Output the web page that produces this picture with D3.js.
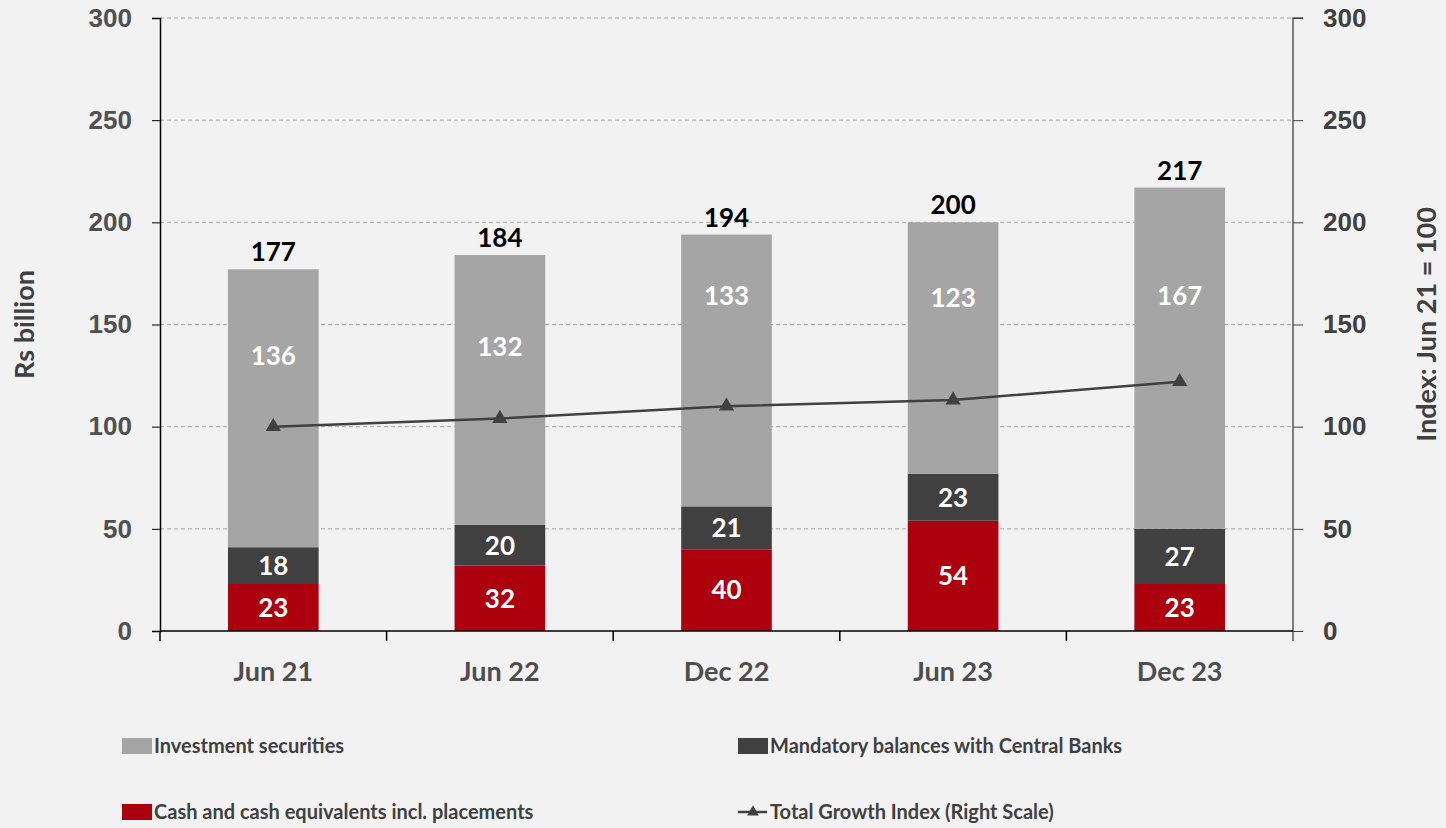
<!DOCTYPE html>
<html>
<head>
<meta charset="utf-8">
<script src="https://cdn.jsdelivr.net/npm/d3@7"></script>
<style>
  body { margin: 0; background: #f2f2f2; }
  svg { display: block; font-family: Lato, "Open Sans", sans-serif; font-weight: bold; }
</style>
</head>
<body>
<svg id="chart" width="1446" height="828"></svg>
<script>
// values
const periods = ["Jun 21", "Jun 22", "Dec 22", "Jun 23", "Dec 23"];
const cash = [23, 32, 40, 54, 23];
const mandatory = [18, 20, 21, 23, 27];
const investment = [136, 132, 133, 123, 167];
const totals = [177, 184, 194, 200, 217];
const growthIndex = [100, 104, 110, 113, 122];
const leftTicks = [0, 50, 100, 150, 200, 250, 300];
const rightTicks = [0, 50, 100, 150, 200, 250, 300];
// where the investment labels sit (Rs billion), moved off the index line in the original
const investLabelAt = [135, 139, 164, 163, 164];

const svg = d3.select("#chart");
const m = { left: 160, right: 1293, top: 18, bottom: 631 };

const x = d3.scaleBand().domain(periods).range([m.left, m.right]).paddingInner(0.6).paddingOuter(0.3);
const y = d3.scaleLinear().domain([0, 300]).range([m.bottom, m.top]);
const y2 = d3.scaleLinear().domain([0, 300]).range([m.bottom, m.top]);
const cx = p => x(p) + x.bandwidth() / 2;

// gridlines
svg.append("g").selectAll("line")
  .data(leftTicks.filter(t => t > 0))
  .enter().append("line")
  .attr("x1", m.left).attr("x2", m.right)
  .attr("y1", d => y(d)).attr("y2", d => y(d))
  .attr("stroke", "#a6a6a6").attr("stroke-width", 1)
  .attr("stroke-dasharray", "4,3");

// stacked bars
const rows = periods.map((p, i) => ({ period: p, cash: cash[i], mandatory: mandatory[i], investment: investment[i] }));
const keys = ["cash", "mandatory", "investment"];
const colors = { cash: "#ad000f", mandatory: "#404040", investment: "#a5a5a5" };
const stack = d3.stack().keys(keys)(rows);

const layers = svg.append("g").selectAll("g")
  .data(stack)
  .enter().append("g")
  .attr("fill", d => colors[d.key]);

layers.selectAll("rect")
  .data(d => d)
  .enter().append("rect")
  .attr("x", d => x(d.data.period))
  .attr("width", x.bandwidth())
  .attr("y", d => y(d[1]))
  .attr("height", d => y(d[0]) - y(d[1]));

// growth index line (drawn under the value labels)
const line = d3.line()
  .x((d, i) => cx(periods[i]))
  .y(d => y2(d));
svg.append("path").datum(growthIndex)
  .attr("d", line).attr("fill", "none")
  .attr("stroke", "#404040").attr("stroke-width", 2.5);
const tri = d3.symbol().type(d3.symbolTriangle).size(100);
svg.append("g").selectAll("path").data(growthIndex).enter().append("path")
  .attr("d", tri)
  .attr("transform", (d, i) => `translate(${cx(periods[i])},${y2(d)})`)
  .attr("fill", "#404040");

layers.selectAll("text")
  .data(d => d.map((v, i) => Object.assign({ key: d.key, i: i }, v)))
  .enter().append("text")
  .attr("x", d => cx(d.data.period))
  .attr("y", d => d.key === "investment" ? y(investLabelAt[d.i]) : (y(d[0]) + y(d[1])) / 2)
  .attr("dy", "0.36em")
  .attr("text-anchor", "middle")
  .attr("fill", "#fff")
  .attr("font-size", 26)
  .text(d => d.data[d.key]);

// totals
svg.append("g").selectAll("text")
  .data(totals)
  .enter().append("text")
  .attr("x", (d, i) => cx(periods[i]))
  .attr("y", d => y(d) - 8)
  .attr("text-anchor", "middle")
  .attr("fill", "#000")
  .attr("font-size", 26)
  .text(d => d);

// left axis
const leftAxis = svg.append("g")
  .attr("transform", `translate(${m.left},0)`)
  .call(d3.axisLeft(y).tickValues(leftTicks).tickSize(8).tickPadding(20));
leftAxis.select(".domain").attr("stroke", "#000").attr("stroke-width", 1.5);
leftAxis.selectAll(".tick line").attr("stroke", "#000");
leftAxis.selectAll("text").attr("font-size", 26).attr("fill", "#505050").attr("font-family", null);

// right axis
const rightAxis = svg.append("g")
  .attr("transform", `translate(${m.right},0)`)
  .call(d3.axisRight(y2).tickValues(rightTicks).tickSize(10).tickPadding(20));
rightAxis.select(".domain").attr("stroke", "#595959").attr("stroke-width", 1.5)
  .attr("d", `M10,${m.top}H0V${m.bottom + 10}`);
rightAxis.selectAll(".tick line").attr("stroke", "#404040");
rightAxis.selectAll("text").attr("font-size", 26).attr("fill", "#404040").attr("font-family", null);

// bottom axis
const bottom = svg.append("g").attr("transform", `translate(0,${m.bottom})`);
bottom.append("line").attr("x1", m.left).attr("x2", m.right).attr("stroke", "#000").attr("stroke-width", 1.5);
const bounds = d3.range(periods.length).map(i => x(periods[i]) - x.step() * x.paddingOuter());
bottom.selectAll(".bt").data(bounds).enter().append("line")
  .attr("x1", d => d).attr("x2", d => d).attr("y1", 0).attr("y2", 10)
  .attr("stroke", "#000").attr("stroke-width", 1.5);
bottom.selectAll("text").data(periods).enter().append("text")
  .attr("x", d => cx(d))
  .attr("y", 50)
  .attr("text-anchor", "middle")
  .attr("fill", "#4d4d4d")
  .attr("font-size", 27)
  .text(d => d);

// axis titles
svg.append("text")
  .attr("transform", `translate(34,${(m.top + m.bottom) / 2}) rotate(-90)`)
  .attr("text-anchor", "middle").attr("fill", "#404040").attr("font-size", 27)
  .text("Rs billion");
svg.append("text")
  .attr("transform", `translate(1436,${(m.top + m.bottom) / 2}) rotate(-90)`)
  .attr("text-anchor", "middle").attr("fill", "#404040").attr("font-size", 27)
  .text("Index: Jun 21 = 100");

// legend
const legendItems = [
  { label: "Investment securities", type: "rect", color: colors.investment, x: 122, y: 746 },
  { label: "Mandatory balances with Central Banks", type: "rect", color: colors.mandatory, x: 738, y: 746 },
  { label: "Cash and cash equivalents incl. placements", type: "rect", color: colors.cash, x: 122, y: 812 },
  { label: "Total Growth Index (Right Scale)", type: "line", color: "#404040", x: 738, y: 812 }
];
const lg = svg.append("g").selectAll("g").data(legendItems).enter().append("g")
  .attr("transform", d => `translate(${d.x},${d.y})`);
lg.filter(d => d.type === "rect").append("rect")
  .attr("x", 0).attr("y", -8).attr("width", 30).attr("height", 16).attr("fill", d => d.color);
lg.filter(d => d.type === "line").append("line")
  .attr("x1", 0).attr("x2", 29).attr("stroke", d => d.color).attr("stroke-width", 2.5);
lg.filter(d => d.type === "line").append("path")
  .attr("d", d3.symbol().type(d3.symbolTriangle).size(60))
  .attr("transform", "translate(15,0)").attr("fill", d => d.color);
lg.append("text")
  .attr("x", 32).attr("dy", "0.36em")
  .attr("fill", "#404040").attr("font-size", 20)
  .text(d => d.label);
</script>
</body>
</html>
